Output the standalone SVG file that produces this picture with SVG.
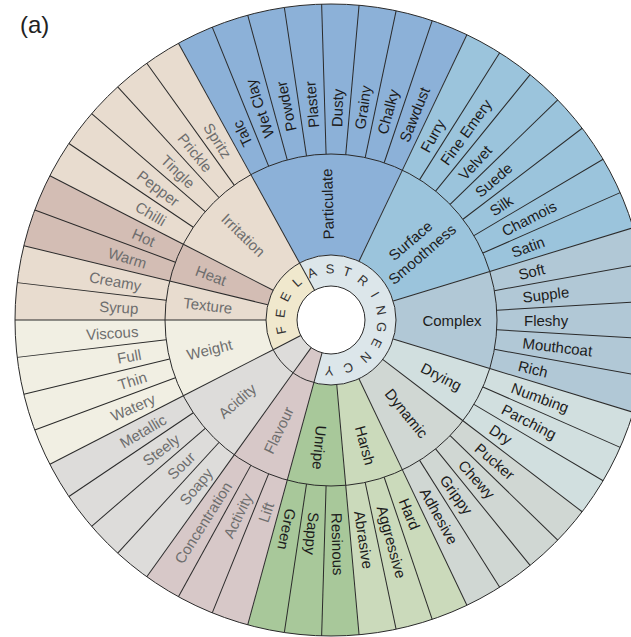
<svg xmlns="http://www.w3.org/2000/svg" xmlns:xlink="http://www.w3.org/1999/xlink" width="631" height="637" viewBox="0 0 631 637">
<style>
text{font-family:"Liberation Sans",Arial,sans-serif;font-size:15px;dominant-baseline:central}
.a{fill:#1c1c1c}
.f{fill:#6e6e6e}
.o{text-anchor:start}
.i{text-anchor:end}
.m{text-anchor:middle}
.ln{stroke:#2a2a2a;stroke-width:1;fill:none}
.ring{font-size:13px;fill:#333;text-anchor:middle}
</style>
<defs>
<line id="ol" x1="331" y1="154" x2="331" y2="4"/>
<line id="ml" x1="331" y1="255" x2="331" y2="154"/>
<line id="il" x1="331" y1="286" x2="331" y2="255"/>
</defs>
<rect width="631" height="637" fill="#ffffff"/>
<text x="20" y="24" style="font-size:24px;fill:#222">(a)</text>

<g id="texture">
<path d="M266,320 L15,320 A316,316 0 0 1 23.84,245.77 L267.82,304.73 A65,65 0 0 0 266,320 Z" fill="#e8dccf"/>
<text class="f m" x="207" y="320" transform="rotate(6.792 331 320)">Texture</text>
<text class="f i" x="138" y="320" transform="rotate(3.396 331 320)">Syrup</text>
<text class="f i" x="138" y="320" transform="rotate(10.189 331 320)">Creamy</text>
</g>
<g id="heat">
<path d="M267.82,304.73 L23.84,245.77 A316,316 0 0 1 49.87,175.70 L273.17,290.32 A65,65 0 0 0 267.82,304.73 Z" fill="#d3bdb4"/>
<text class="f m" x="203" y="320" transform="rotate(20.377 331 320)">Heat</text>
<text class="f i" x="138" y="320" transform="rotate(16.981 331 320)">Warm</text>
<text class="f i" x="138" y="320" transform="rotate(23.774 331 320)">Hot</text>
</g>
<g id="irritation">
<path d="M273.17,290.32 L49.87,175.70 A316,316 0 0 1 178.44,43.27 L299.62,263.08 A65,65 0 0 0 273.17,290.32 Z" fill="#e8dccf"/>
<text class="f m" x="209" y="320" transform="rotate(44.151 331 320)">Irritation</text>
<text class="f i" x="138" y="320" transform="rotate(30.566 331 320)">Chilli</text>
<text class="f i" x="138" y="320" transform="rotate(37.358 331 320)">Pepper</text>
<text class="f i" x="138" y="320" transform="rotate(44.151 331 320)">Tingle</text>
<text class="f i" x="138" y="320" transform="rotate(50.943 331 320)">Prickle</text>
<text class="f i" x="138" y="320" transform="rotate(57.736 331 320)">Spritz</text>
</g>
<g id="particulate">
<path d="M299.62,263.08 L178.44,43.27 A316,316 0 0 1 466.90,34.72 L358.95,261.32 A65,65 0 0 0 299.62,263.08 Z" fill="#8cb1d8"/>
<text class="a m" x="447" y="320" transform="rotate(268.302 331 320)">Particulate</text>
<text class="a o" x="524" y="320" transform="rotate(244.528 331 320)">Talc</text>
<text class="a o" x="524" y="320" transform="rotate(251.321 331 320)">Wet Clay</text>
<text class="a o" x="524" y="320" transform="rotate(258.113 331 320)">Powder</text>
<text class="a o" x="524" y="320" transform="rotate(264.906 331 320)">Plaster</text>
<text class="a o" x="524" y="320" transform="rotate(-88.302 331 320)">Dusty</text>
<text class="a o" x="524" y="320" transform="rotate(-81.509 331 320)">Grainy</text>
<text class="a o" x="524" y="320" transform="rotate(-74.717 331 320)">Chalky</text>
<text class="a o" x="524" y="320" transform="rotate(-67.925 331 320)">Sawdust</text>
</g>
<g id="surface-smoothness">
<path d="M358.95,261.32 L466.90,34.72 A316,316 0 0 1 633.22,227.71 L393.17,301.02 A65,65 0 0 0 358.95,261.32 Z" fill="#9bc4dc"/>
<text class="a m" transform="rotate(-40.755 331 320)"><tspan x="443" y="311">Surface</tspan><tspan x="443" y="329">Smoothness</tspan></text>
<text class="a o" x="524" y="320" transform="rotate(-61.132 331 320)">Furry</text>
<text class="a o" x="524" y="320" transform="rotate(-54.340 331 320)">Fine Emery</text>
<text class="a o" x="524" y="320" transform="rotate(-47.547 331 320)">Velvet</text>
<text class="a o" x="524" y="320" transform="rotate(-40.755 331 320)">Suede</text>
<text class="a o" x="524" y="320" transform="rotate(-33.962 331 320)">Silk</text>
<text class="a o" x="524" y="320" transform="rotate(-27.170 331 320)">Chamois</text>
<text class="a o" x="524" y="320" transform="rotate(-20.377 331 320)">Satin</text>
</g>
<g id="complex">
<path d="M393.17,301.02 L633.22,227.71 A316,316 0 0 1 633.22,412.29 L393.17,338.98 A65,65 0 0 0 393.17,301.02 Z" fill="#b1c8d6"/>
<text class="a m" x="452" y="320">Complex</text>
<text class="a o" x="524" y="320" transform="rotate(-13.585 331 320)">Soft</text>
<text class="a o" x="524" y="320" transform="rotate(-6.792 331 320)">Supple</text>
<text class="a o" x="524" y="320">Fleshy</text>
<text class="a o" x="524" y="320" transform="rotate(6.792 331 320)">Mouthcoat</text>
<text class="a o" x="524" y="320" transform="rotate(13.585 331 320)">Rich</text>
</g>
<g id="drying">
<path d="M393.17,338.98 L633.22,412.29 A316,316 0 0 1 582.18,511.75 L382.67,359.44 A65,65 0 0 0 393.17,338.98 Z" fill="#d1dfdf"/>
<text class="a m" x="455" y="320" transform="rotate(27.170 331 320)">Drying</text>
<text class="a o" x="524" y="320" transform="rotate(20.377 331 320)">Numbing</text>
<text class="a o" x="524" y="320" transform="rotate(27.170 331 320)">Parching</text>
<text class="a o" x="524" y="320" transform="rotate(33.962 331 320)">Dry</text>
</g>
<g id="dynamic">
<path d="M382.67,359.44 L582.18,511.75 A316,316 0 0 1 466.90,605.28 L358.95,378.68 A65,65 0 0 0 382.67,359.44 Z" fill="#d0d7d3"/>
<text class="a m" x="451" y="320" transform="rotate(50.943 331 320)">Dynamic</text>
<text class="a o" x="524" y="320" transform="rotate(40.755 331 320)">Pucker</text>
<text class="a o" x="524" y="320" transform="rotate(47.547 331 320)">Chewy</text>
<text class="a o" x="524" y="320" transform="rotate(54.340 331 320)">Grippy</text>
<text class="a o" x="524" y="320" transform="rotate(61.132 331 320)">Adhesive</text>
</g>
<g id="harsh">
<path d="M358.95,378.68 L466.90,605.28 A316,316 0 0 1 359.06,634.75 L336.77,384.74 A65,65 0 0 0 358.95,378.68 Z" fill="#cbdabb"/>
<text class="a m" x="461" y="320" transform="rotate(74.717 331 320)">Harsh</text>
<text class="a o" x="524" y="320" transform="rotate(67.925 331 320)">Hard</text>
<text class="a o" x="524" y="320" transform="rotate(74.717 331 320)">Aggressive</text>
<text class="a o" x="524" y="320" transform="rotate(81.509 331 320)">Abrasive</text>
</g>
<g id="unripe">
<path d="M336.77,384.74 L359.06,634.75 A316,316 0 0 1 247.71,624.83 L313.87,382.70 A65,65 0 0 0 336.77,384.74 Z" fill="#a8c89a"/>
<text class="a m" x="459" y="320" transform="rotate(95.094 331 320)">Unripe</text>
<text class="a o" x="524" y="320" transform="rotate(88.302 331 320)">Resinous</text>
<text class="a o" x="524" y="320" transform="rotate(95.094 331 320)">Sappy</text>
<text class="a o" x="524" y="320" transform="rotate(101.887 331 320)">Green</text>
</g>
<g id="flavour">
<path d="M313.87,382.70 L247.71,624.83 A316,316 0 0 1 146.78,576.75 L293.11,372.81 A65,65 0 0 0 313.87,382.70 Z" fill="#d7c8c8"/>
<text class="f m" x="209" y="320" transform="rotate(-64.528 331 320)">Flavour</text>
<text class="f i" x="138" y="320" transform="rotate(-71.321 331 320)">Lift</text>
<text class="f i" x="138" y="320" transform="rotate(-64.528 331 320)">Activity</text>
<text class="f i" x="138" y="320" transform="rotate(-57.736 331 320)">Concentration</text>
</g>
<g id="acidity">
<path d="M293.11,372.81 L146.78,576.75 A316,316 0 0 1 49.87,464.30 L273.17,349.68 A65,65 0 0 0 293.11,372.81 Z" fill="#dddcda"/>
<text class="f m" x="207" y="320" transform="rotate(-40.755 331 320)">Acidity</text>
<text class="f i" x="138" y="320" transform="rotate(-50.943 331 320)">Soapy</text>
<text class="f i" x="138" y="320" transform="rotate(-44.151 331 320)">Sour</text>
<text class="f i" x="138" y="320" transform="rotate(-37.358 331 320)">Steely</text>
<text class="f i" x="138" y="320" transform="rotate(-30.566 331 320)">Metallic</text>
</g>
<g id="weight">
<path d="M273.17,349.68 L49.87,464.30 A316,316 0 0 1 15,320 L266,320 A65,65 0 0 0 273.17,349.68 Z" fill="#f1efe3"/>
<text class="f m" x="206" y="320" transform="rotate(-13.585 331 320)">Weight</text>
<text class="f i" x="138" y="320" transform="rotate(-23.774 331 320)">Watery</text>
<text class="f i" x="138" y="320" transform="rotate(-16.981 331 320)">Thin</text>
<text class="f i" x="138" y="320" transform="rotate(-10.189 331 320)">Full</text>
<text class="f i" x="138" y="320" transform="rotate(-3.396 331 320)">Viscous</text>
</g>

<g id="feel">
<path d="M300.75,335.53 L273.17,349.68 A65,65 0 0 1 299.62,263.08 L314.58,290.22 A34,34 0 0 0 300.75,335.53 Z" fill="#f0e8cd"/>
<text class="ring" x="331" y="269" transform="rotate(258.5 331 320)">F</text>
<text class="ring" x="331" y="269" transform="rotate(277.5 331 320)">E</text>
<text class="ring" x="331" y="269" transform="rotate(297 331 320)">E</text>
<text class="ring" x="331" y="269" transform="rotate(318 331 320)">L</text>
</g>
<g id="astringency">
<path d="M314.58,290.22 L299.62,263.08 A65,65 0 1 1 313.87,382.70 L322.04,352.80 A34,34 0 1 0 314.58,290.22 Z" fill="#dce6ea"/>
<text class="ring" x="331" y="269" transform="rotate(338 331 320)">A</text>
<text class="ring" x="331" y="269" transform="rotate(359 331 320)">S</text>
<text class="ring" x="331" y="269" transform="rotate(18.5 331 320)">T</text>
<text class="ring" x="331" y="269" transform="rotate(39 331 320)">R</text>
<text class="ring" x="331" y="269" transform="rotate(60 331 320)">I</text>
<text class="ring" x="331" y="269" transform="rotate(79 331 320)">N</text>
<text class="ring" x="331" y="269" transform="rotate(98 331 320)">G</text>
<text class="ring" x="331" y="269" transform="rotate(117 331 320)">E</text>
<text class="ring" x="331" y="269" transform="rotate(137 331 320)">N</text>
<text class="ring" x="331" y="269" transform="rotate(160 331 320)">C</text>
<text class="ring" x="331" y="269" transform="rotate(182 331 320)">Y</text>
</g>
<g id="inner-flavour">
<path d="M322.04,352.80 L313.87,382.70 A65,65 0 0 1 293.11,372.81 L311.18,347.62 A34,34 0 0 0 322.04,352.80 Z" fill="#d7c8c8"/>
</g>
<g id="inner-acidity">
<path d="M311.18,347.62 L293.11,372.81 A65,65 0 0 1 273.17,349.68 L300.75,335.53 A34,34 0 0 0 311.18,347.62 Z" fill="#dddcda"/>
</g>
<circle cx="331" cy="320" r="34" fill="#ffffff"/>

<g id="dividers" class="ln">
<circle cx="331" cy="320" r="34"/>
<circle cx="331" cy="320" r="65"/>
<circle cx="331" cy="320" r="166"/>
<circle cx="331" cy="320" r="316"/>
<use xlink:href="#il" transform="rotate(331.132 331 320)"/>
<use xlink:href="#il" transform="rotate(195.283 331 320)"/>
<use xlink:href="#il" transform="rotate(215.660 331 320)"/>
<use xlink:href="#il" transform="rotate(242.830 331 320)"/>
<use xlink:href="#ml" transform="rotate(270 331 320)"/>
<use xlink:href="#ml" transform="rotate(283.585 331 320)"/>
<use xlink:href="#ml" transform="rotate(297.170 331 320)"/>
<use xlink:href="#ml" transform="rotate(331.132 331 320)"/>
<use xlink:href="#ml" transform="rotate(25.472 331 320)"/>
<use xlink:href="#ml" transform="rotate(73.019 331 320)"/>
<use xlink:href="#ml" transform="rotate(106.981 331 320)"/>
<use xlink:href="#ml" transform="rotate(127.358 331 320)"/>
<use xlink:href="#ml" transform="rotate(154.528 331 320)"/>
<use xlink:href="#ml" transform="rotate(174.906 331 320)"/>
<use xlink:href="#ml" transform="rotate(195.283 331 320)"/>
<use xlink:href="#ml" transform="rotate(215.660 331 320)"/>
<use xlink:href="#ml" transform="rotate(242.830 331 320)"/>
<use xlink:href="#ol" transform="rotate(270 331 320)"/>
<use xlink:href="#ol" transform="rotate(276.792 331 320)"/>
<use xlink:href="#ol" transform="rotate(283.585 331 320)"/>
<use xlink:href="#ol" transform="rotate(290.377 331 320)"/>
<use xlink:href="#ol" transform="rotate(297.170 331 320)"/>
<use xlink:href="#ol" transform="rotate(303.962 331 320)"/>
<use xlink:href="#ol" transform="rotate(310.755 331 320)"/>
<use xlink:href="#ol" transform="rotate(317.547 331 320)"/>
<use xlink:href="#ol" transform="rotate(324.340 331 320)"/>
<use xlink:href="#ol" transform="rotate(331.132 331 320)"/>
<use xlink:href="#ol" transform="rotate(337.925 331 320)"/>
<use xlink:href="#ol" transform="rotate(344.717 331 320)"/>
<use xlink:href="#ol" transform="rotate(351.509 331 320)"/>
<use xlink:href="#ol" transform="rotate(358.302 331 320)"/>
<use xlink:href="#ol" transform="rotate(5.094 331 320)"/>
<use xlink:href="#ol" transform="rotate(11.887 331 320)"/>
<use xlink:href="#ol" transform="rotate(18.679 331 320)"/>
<use xlink:href="#ol" transform="rotate(25.472 331 320)"/>
<use xlink:href="#ol" transform="rotate(32.264 331 320)"/>
<use xlink:href="#ol" transform="rotate(39.057 331 320)"/>
<use xlink:href="#ol" transform="rotate(45.849 331 320)"/>
<use xlink:href="#ol" transform="rotate(52.642 331 320)"/>
<use xlink:href="#ol" transform="rotate(59.434 331 320)"/>
<use xlink:href="#ol" transform="rotate(66.226 331 320)"/>
<use xlink:href="#ol" transform="rotate(73.019 331 320)"/>
<use xlink:href="#ol" transform="rotate(79.811 331 320)"/>
<use xlink:href="#ol" transform="rotate(86.604 331 320)"/>
<use xlink:href="#ol" transform="rotate(93.396 331 320)"/>
<use xlink:href="#ol" transform="rotate(100.189 331 320)"/>
<use xlink:href="#ol" transform="rotate(106.981 331 320)"/>
<use xlink:href="#ol" transform="rotate(113.774 331 320)"/>
<use xlink:href="#ol" transform="rotate(120.566 331 320)"/>
<use xlink:href="#ol" transform="rotate(127.358 331 320)"/>
<use xlink:href="#ol" transform="rotate(134.151 331 320)"/>
<use xlink:href="#ol" transform="rotate(140.943 331 320)"/>
<use xlink:href="#ol" transform="rotate(147.736 331 320)"/>
<use xlink:href="#ol" transform="rotate(154.528 331 320)"/>
<use xlink:href="#ol" transform="rotate(161.321 331 320)"/>
<use xlink:href="#ol" transform="rotate(168.113 331 320)"/>
<use xlink:href="#ol" transform="rotate(174.906 331 320)"/>
<use xlink:href="#ol" transform="rotate(181.698 331 320)"/>
<use xlink:href="#ol" transform="rotate(188.491 331 320)"/>
<use xlink:href="#ol" transform="rotate(195.283 331 320)"/>
<use xlink:href="#ol" transform="rotate(202.075 331 320)"/>
<use xlink:href="#ol" transform="rotate(208.868 331 320)"/>
<use xlink:href="#ol" transform="rotate(215.660 331 320)"/>
<use xlink:href="#ol" transform="rotate(222.453 331 320)"/>
<use xlink:href="#ol" transform="rotate(229.245 331 320)"/>
<use xlink:href="#ol" transform="rotate(236.038 331 320)"/>
<use xlink:href="#ol" transform="rotate(242.830 331 320)"/>
<use xlink:href="#ol" transform="rotate(249.623 331 320)"/>
<use xlink:href="#ol" transform="rotate(256.415 331 320)"/>
<use xlink:href="#ol" transform="rotate(263.208 331 320)"/>
</g>
</svg>
